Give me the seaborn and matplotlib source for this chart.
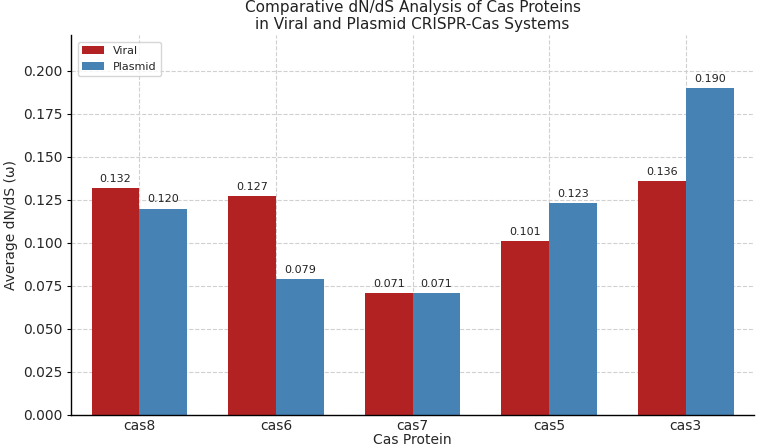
import matplotlib
matplotlib.use("Agg")
import matplotlib.pyplot as plt
import seaborn as sns
import pandas as pd

proteins = ["cas8", "cas6", "cas7", "cas5", "cas3"]
viral = [0.132, 0.127, 0.071, 0.101, 0.136]
plasmid = [0.120, 0.079, 0.071, 0.123, 0.190]
series = ["Viral", "Plasmid"]
colors = ["#b22222", "#4682b4"]

df = pd.DataFrame({
    "Protein": proteins * 2,
    "Value": viral + plasmid,
    "Source": [series[0]] * len(proteins) + [series[1]] * len(proteins),
})

sns.set_style("whitegrid", {"grid.linestyle": "--", "grid.color": "#d0d0d0",
                            "axes.edgecolor": "black"})
plt.rcParams["font.family"] = ["DejaVu Sans"]

fig, ax = plt.subplots(figsize=(7.64, 4.47), dpi=100)
sns.barplot(data=df, x="Protein", y="Value", hue="Source", order=proteins,
            hue_order=series, palette=colors, width=0.7, linewidth=0, ax=ax,
            saturation=1)
for c in ax.containers:
    ax.bar_label(c, fmt="%.3f", padding=3, fontsize=8, color="#222222")

ax.set_xlim(-0.5, 4.5)
ax.set_ylim(0, 0.221)
ax.set_yticks([0, 0.025, 0.05, 0.075, 0.1, 0.125, 0.15, 0.175, 0.2])
ax.set_yticklabels([f"{v:.3f}" for v in ax.get_yticks()])
ax.set_xlabel("Cas Protein", fontsize=10, labelpad=0)
ax.set_ylabel("Average dN/dS (ω)", fontsize=10, labelpad=4)
ax.set_title("Comparative dN/dS Analysis of Cas Proteins\nin Viral and Plasmid CRISPR-Cas Systems",
             fontsize=11, pad=4, color="#222222")
ax.tick_params(axis="y", labelsize=10, left=True, length=3, pad=3, color="black")
ax.tick_params(axis="x", labelsize=10, bottom=False, length=0, pad=3)
ax.xaxis.grid(True, linestyle="--", color="#d0d0d0")
ax.yaxis.grid(True, linestyle="--", color="#d0d0d0")
ax.set_axisbelow(True)
sns.despine(ax=ax, top=True, right=True)
for s in ["left", "bottom"]:
    ax.spines[s].set_color("black")
    ax.spines[s].set_linewidth(1)
leg = ax.legend(loc="upper left", fontsize=8, frameon=True,
                borderaxespad=0.6, handlelength=2.0)
leg.set_title(None)

fig.subplots_adjust(left=0.093, right=0.987, top=0.922, bottom=0.072)
fig.savefig("out.png", dpi=100)
